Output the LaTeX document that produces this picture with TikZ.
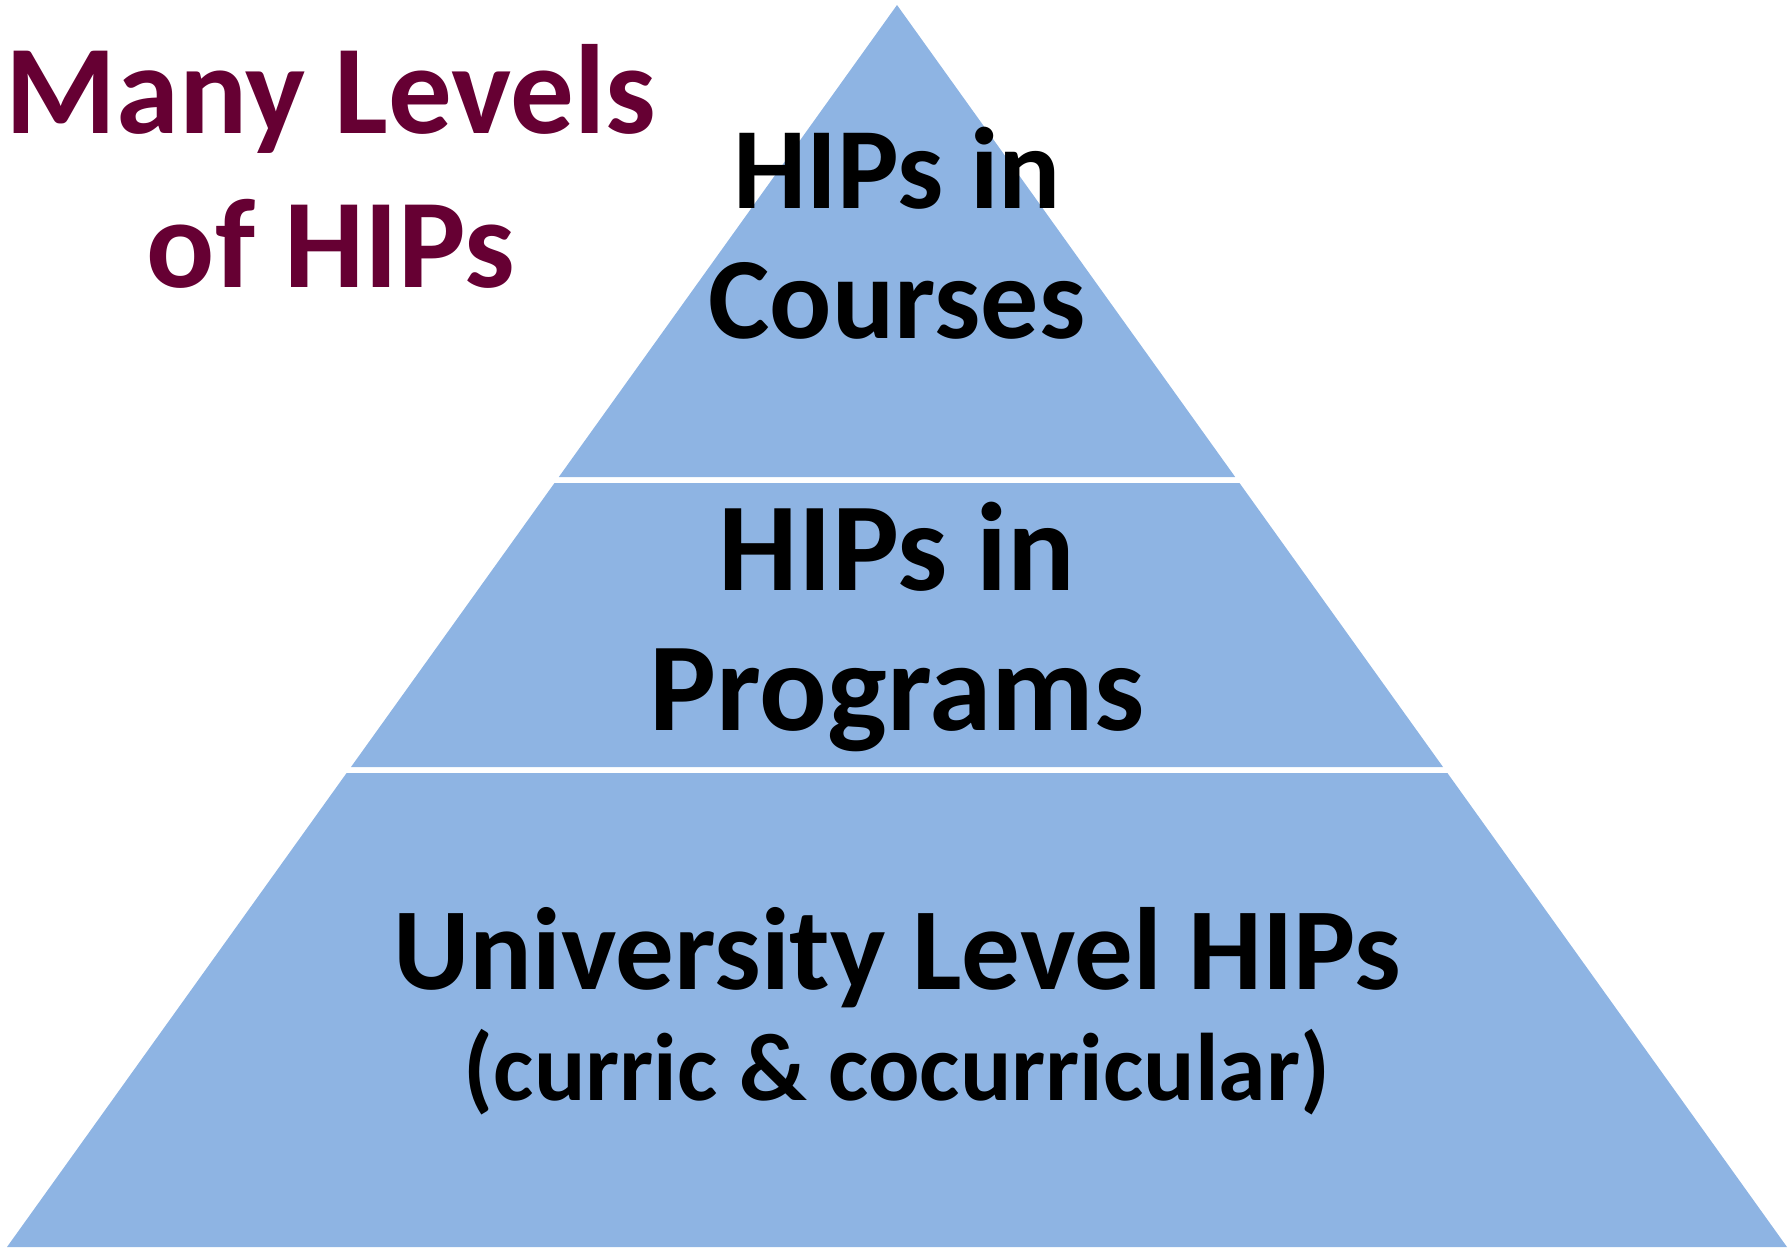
\documentclass[tikz,border=0pt]{standalone}
\usepackage{fontspec}
\setmainfont{Carlito}
\definecolor{pyr}{HTML}{8EB4E3}
\definecolor{maroon}{HTML}{660033}
\begin{document}
\begin{tikzpicture}[x=1pt,y=-1pt,
  lvl/.style={fill=pyr,draw=none},
  txt/.style={anchor=base,inner sep=0pt,font=\bfseries},
  title/.style={txt,text=maroon,font=\fontsize{127}{127}\selectfont\bfseries},
  big/.style={txt,font=\fontsize{126}{126}\selectfont\bfseries},
  mid/.style={txt,font=\fontsize{116}{116}\selectfont\bfseries},
  uni/.style={txt,font=\fontsize{117}{117}\selectfont\bfseries},
  small/.style={txt,font=\fontsize{96}{96}\selectfont\bfseries}]
\useasboundingbox (0,0) rectangle (1791,1248);
% pyramid levels
\fill[lvl] (897,5) -- (1235.2,477) -- (558.8,477) -- cycle;
\fill[lvl] (554.5,483) -- (1239.5,483) -- (1443,767) -- (351,767) -- cycle;
\fill[lvl] (346.6,773) -- (1447.4,773) -- (1787,1247) -- (7,1247) -- cycle;
% title
\node[title] (t1) at (331,133) {Many Levels};
\node[title] (t2) at (331,287) {of HIPs};
% top
\node[mid] (c1) at (897,208) {HIPs in};
\node[mid] (c2) at (897,338) {Courses};
% middle
\node[big] (p1) at (897,590) {HIPs in};
\node[big] (p2) at (897,730) {Programs};
% bottom
\node[uni] (u1) at (897,989) {University Level HIPs};
\node[small] (u2) at (897,1100) {(curric \& cocurricular)};
\end{tikzpicture}
\end{document}
